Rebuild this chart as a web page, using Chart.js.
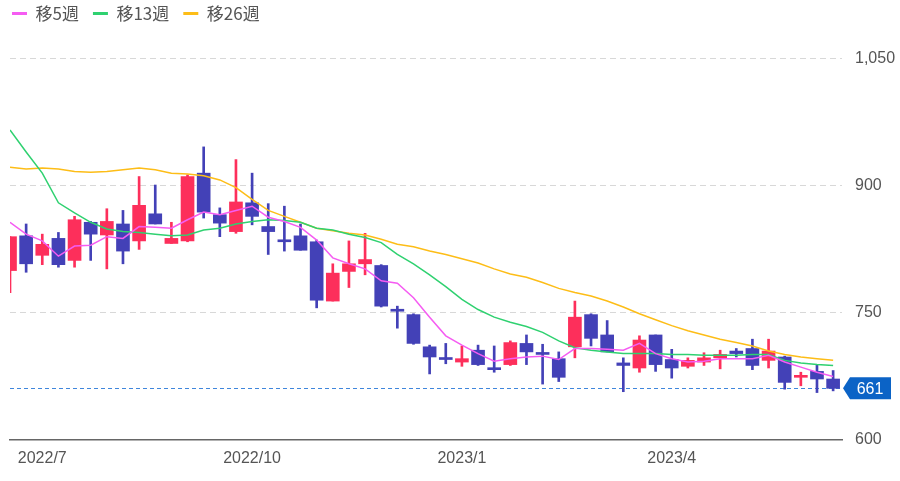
<!DOCTYPE html>
<html>
<head>
<meta charset="utf-8">
<script src="https://cdn.jsdelivr.net/npm/chart.js@4/dist/chart.umd.min.js"></script>
<style>
  body { margin: 0; background: #fff; }
  canvas { display: block; }
</style>
</head>
<body>
<canvas id="chartW" width="900" height="481"></canvas>
<script>
// weekly bars, 2022/6/20 .. 2023/6/12
const weeks = ['2022/6/20','2022/6/27','2022/7/4','2022/7/11','2022/7/18','2022/7/25','2022/8/1','2022/8/8','2022/8/15','2022/8/22',
  '2022/8/29','2022/9/5','2022/9/12','2022/9/19','2022/9/26','2022/10/3','2022/10/10','2022/10/17','2022/10/24','2022/10/31',
  '2022/11/7','2022/11/14','2022/11/21','2022/11/28','2022/12/5','2022/12/12','2022/12/19','2022/12/26','2023/1/2','2023/1/9',
  '2023/1/16','2023/1/23','2023/1/30','2023/2/6','2023/2/13','2023/2/20','2023/2/27','2023/3/6','2023/3/13','2023/3/20',
  '2023/3/27','2023/4/3','2023/4/10','2023/4/17','2023/4/24','2023/5/1','2023/5/8','2023/5/15','2023/5/22','2023/5/29',
  '2023/6/5','2023/6/12'];

const openP  = [800,841,818,838,812,857,842,855,835,867, 832,835,915,866,846,880,852,836,841,834, 764,799,808,806,754,748,710,697,692,706,
  685,689,714,703,696,710,748,724,691,685, 724,695,687,692,697,705,708,694,698,674, 681,672];
const highP  = [840,855,843,845,864,858,873,871,911,901, 857,913,946,874,931,915,879,876,855,836, 808,835,844,807,758,749,712,714,711,712,
  711,717,724,713,704,764,749,741,697,723, 724,707,697,703,706,708,719,719,699,680, 689,682];
const lowP   = [774,798,807,804,804,812,802,808,825,855, 832,834,862,840,844,854,819,823,824,756, 764,780,795,757,732,713,678,690,687,688,
  680,688,689,666,669,697,711,704,657,680, 681,673,685,688,684,698,683,685,660,664, 656,658];
const closeP = [840,808,831,807,860,843,858,823,877,855, 838,911,869,856,881,864,846,834,824,765, 797,808,813,758,752,714,698,695,696,689,
  683,715,704,701,674,745,720,704,688,718, 689,685,694,697,701,702,688,705,668,676, 672,661];

const ma5  = [857,843,835,817,829,830,840,838,852,851, 850,860,869,866,871,876,863,858,851,836, 815,808,802,788,785,768,745,723,712,702,
  693,696,698,699,695,708,708,707,706,714, 702,696,692,693,696,696,696,700,692,686, 680,675];
const ma13 = [966,940,915,880,868,857,849,846,845,843, 841,842,848,850,855,858,860,859,857,850, 848,843,839,833,819,808,795,781,766,754,
  745,739,734,727,717,709,706,704,702,702, 702,701,701,700,700,700,701,701,694,691, 689,688];
const ma26 = [922,920,921,920,917,916,917,919,921,919, 915,914,912,907,898,884,871,864,857,850, 847,844,842,837,831,828,823,819,814,809,
  802,796,792,786,779,774,770,764,757,749, 742,735,729,724,719,715,711,705,701,698, 696,694];

const maNames = ['移5週', '移13週', '移26週'];
const maColors = ['#f55cf2', '#2fd170', '#fdbd17'];
const yTicks = [600, 750, 900, 1050];

const UP = '#fd2f5b';
const DOWN = '#4341b7';
const lastClose = closeP[closeP.length - 1];

const tickIdx = [];
weeks.forEach(function (w, i) {
  const p = w.split('/').map(Number);
  if ([1, 4, 7, 10].includes(p[1]) && p[2] <= 7) tickIdx.push(i);
});

function candleColor(ctx) {
  const i = ctx.dataIndex;
  return closeP[i] >= openP[i] ? UP : DOWN;
}

const wickData = weeks.map((w, i) => ({ x: i, y: [lowP[i], highP[i]] }));
const bodyData = weeks.map((w, i) => ({ x: i, y: [openP[i], closeP[i]] }));

const datasets = [ma5, ma13, ma26].map(function (arr, k) {
  return {
    type: 'line',
    label: maNames[k],
    data: arr.map((v, i) => ({ x: i, y: v })),
    borderColor: maColors[k],
    backgroundColor: maColors[k],
    borderWidth: 1.5,
    pointRadius: 0,
    tension: 0,
    order: 0
  };
});
datasets.push({
  type: 'bar', label: 'body', data: bodyData, backgroundColor: candleColor,
  barThickness: 13, minBarLength: 2, grouped: false, order: 1
});
datasets.push({
  type: 'bar', label: 'wick', data: wickData, backgroundColor: candleColor,
  barThickness: 2, grouped: false, order: 2
});

const priceTag = {
  id: 'priceTag',
  beforeDatasetsDraw(chart) {
    const ctx = chart.ctx, a = chart.chartArea;
    const y = Math.round(chart.scales.y.getPixelForValue(lastClose)) + 0.5;
    ctx.save();
    ctx.strokeStyle = '#3f86dc';
    ctx.lineWidth = 1;
    ctx.setLineDash([4, 3]);
    ctx.beginPath();
    ctx.moveTo(a.left, y);
    ctx.lineTo(a.right, y);
    ctx.stroke();
    ctx.restore();
  },
  afterDraw(chart) {
    const ctx = chart.ctx, a = chart.chartArea;
    const y = chart.scales.y.getPixelForValue(lastClose);
    const x0 = a.right + 1;
    ctx.save();
    ctx.fillStyle = '#0b63c6';
    ctx.beginPath();
    ctx.moveTo(x0, y);
    ctx.lineTo(x0 + 7, y - 11);
    ctx.lineTo(x0 + 48, y - 11);
    ctx.lineTo(x0 + 48, y + 11);
    ctx.lineTo(x0 + 7, y + 11);
    ctx.closePath();
    ctx.fill();
    ctx.fillStyle = '#fff';
    ctx.font = '16px "Liberation Sans", Arial, sans-serif';
    ctx.textAlign = 'center';
    ctx.textBaseline = 'middle';
    ctx.fillText(String(lastClose), x0 + 27, y + 1);
    ctx.restore();
  }
};

const legendShift = {
  id: 'legendShift',
  afterLayout(chart) {
    chart.legend.left = -2;
    chart.legend.top = -9;
  }
};

const FONT = '"Liberation Sans", Arial, "Noto Sans CJK JP", sans-serif';

new Chart(document.getElementById('chartW').getContext('2d'), {
  type: 'bar',
  data: { datasets: datasets },
  plugins: [priceTag, legendShift],
  options: {
    responsive: false,
    animation: false,
    devicePixelRatio: 1,
    layout: { padding: { left: 10, right: 0, top: 0, bottom: 0 } },
    plugins: {
      tooltip: { enabled: false },
      legend: {
        position: 'top',
        align: 'start',
        labels: {
          usePointStyle: true,
          pointStyle: 'line',
          pointStyleWidth: 15,
          padding: 14,
          color: '#555',
          font: { size: 17, family: '"Noto Sans CJK JP", sans-serif' },
          filter: (item) => item.datasetIndex < 3,
          generateLabels(chart) {
            return Chart.defaults.plugins.legend.labels.generateLabels(chart).map(function (l) {
              l.lineWidth = 3;
              return l;
            });
          }
        }
      }
    },
    scales: {
      x: {
        type: 'linear',
        min: 0,
        max: 51.55,
        offset: false,
        grid: { display: false, drawTicks: false },
        border: { display: true, color: '#666', width: 1.5 },
        afterFit(s) { s.height = 41; },
        afterBuildTicks(s) { s.ticks = tickIdx.map(i => ({ value: i })); },
        ticks: {
          padding: 9,
          color: '#555',
          font: { size: 16, family: FONT },
          maxRotation: 0,
          autoSkip: false,
          callback(v) {
            const p = weeks[v].split('/');
            return p[0] + '/' + p[1];
          }
        }
      },
      y: {
        position: 'right',
        min: 600,
        max: 1071,
        grid: {
          drawTicks: false,
          color: (c) => c.tick && c.tick.value === 600 ? 'rgba(0,0,0,0)' : '#d8d8d8',
          lineWidth: 1
        },
        border: { display: false, dash: [6, 4] },
        afterFit(s) { s.width = 58; },
        afterBuildTicks(s) { s.ticks = yTicks.map(v => ({ value: v })); },
        ticks: {
          padding: 13,
          color: '#555',
          font: { size: 16, family: FONT },
          callback: (v) => v.toLocaleString('en-US')
        }
      }
    }
  }
});
</script>
</body>
</html>
